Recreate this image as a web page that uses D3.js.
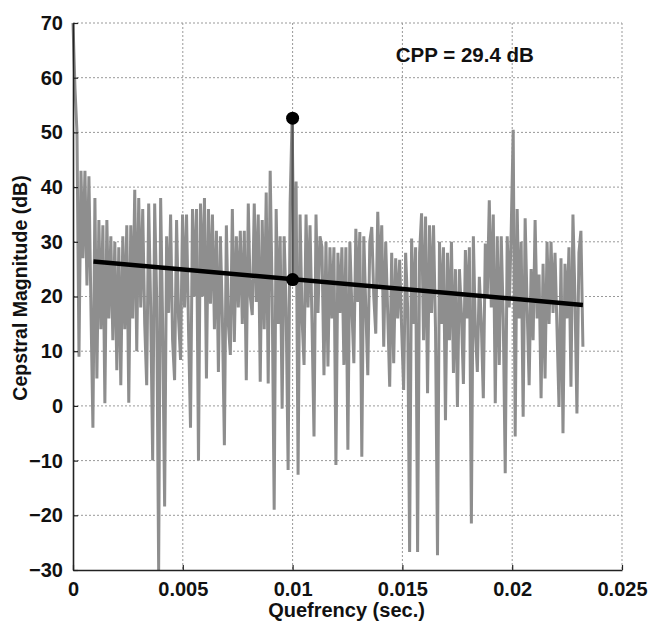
<!DOCTYPE html>
<html>
<head>
<meta charset="utf-8">
<script src="https://cdn.jsdelivr.net/npm/d3@7"></script>
<style>
  body { margin: 0; background: #fff; }
  svg text { font-family: "Liberation Sans", Arial, sans-serif; font-weight: bold; fill: #111; }
</style>
</head>
<body>
<div id="chart"></div>
<script>
//////////////////////////////////////////////
// Data //////////////////////////////////////
//////////////////////////////////////////////

// cepstrum magnitude (dB), one value every 4 samples at 44.1 kHz
var quefStep = 4 / 44100;
var cepstrum = [
  70, 58, 50, 9, 43, 27, 43, 22, 42, 18,
  -4, 38, 5, 34, 14, 33, 0.5, 34, 16, 31,
  12, 30, 6.5, 29, 3.8, 31, 14, 33, 0.6, 33,
  16, 39.5, 10, 38, 18, 36, 15, 3.8, 37, 18,
  -10, 37, 20, -30, 38, 15, -18.4, 31, 17, 35,
  12, 4.7, 34, 16, 8.4, 35, 18, 35, 14, -4,
  36, 20, 36, -10, 37, 20, 38, 5, 36, 18.7,
  35, 14, 32, 6.2, 31, 16, -7.2, 33, 15, 9.3,
  36, 11.7, 31, 18, 32, 15, 32, 4.7, 37, 20,
  16.6, 37, 19, 35, 4.4, 34, 14, 39, 4.1, 43,
  20, -19, 36, 15, 31, -0.5, 31, 18, -11.7, 37,
  52.6, 22, 41, -12.6, 35, 16, 7.5, 35, 18, 33,
  15, -5.6, 35, 17, 31, 29, 5.6, 30, 7.2, 29,
  16, 29, -10.8, 28, 17, 29, 7.5, 29, -8, 30,
  18, 7.8, 32.4, 19, 31.8, -9.3, 31, 18, 5.6, 30,
  32.7, 20, 13.2, 35.5, 22, 33, 10.8, 30, 17, 3.5,
  28, 7.8, 27, 16, 26.7, 14, 2.9, 28, 18, -26.7,
  30.6, 15, 29, -26.7, 28, 35.2, 12, 34.6, 2.3, 33,
  17, 33, 14, -27.3, 30, 15, 29, -2.6, 28, 12,
  30, 6, 25, -0.2, 25, 17, 4, 28.5, 16, 29,
  -21.5, 31, 14, 6.2, 23.6, 15, 1.4, 29.7, 20, 37.6,
  18, 35, 0.5, 31, 7.5, 31, 16, -12.3, 31, 18,
  32, 50.5, -5.6, 36, 16, 30, -2, 34.3, 18, 3.8,
  25, 12, 34, 16, 24, 1.4, 26, 5, 30, 15,
  30, 17, 28, 14, -0.2, 27, -5, 26, 16, 29,
  3.5, 35, 20, -1.4, 28, 32, 10.8
];

// regression line end points (quefrency, dB)
var regQuef = [0.00093, 0.02322];
var regDb = [26.4, 18.45];

// cepstral peak and the regression value under it
var peakQuef = 0.01;
var peakDb = 52.6;
var peakRegDb = 23.1;
var cppLabel = "CPP = 29.4 dB";

// ticks
var xTicks = [0, 0.005, 0.01, 0.015, 0.02, 0.025];
var xTickLabels = ["0", "0.005", "0.01", "0.015", "0.02", "0.025"];
var yTicks = [-30, -20, -10, 0, 10, 20, 30, 40, 50, 60, 70];

var data = cepstrum.map(function(v, i) { return {q: i * quefStep, db: v}; });

//////////////////////////////////////////////
// Chart Config /////////////////////////////
//////////////////////////////////////////////
var margin = {top: 23, right: 30, bottom: 52, left: 73};
var width = 652 - margin.left - margin.right,
    height = 622 - margin.top - margin.bottom;

var xScale = d3.scaleLinear().domain([0, 0.025]).range([0, width]);
var yScale = d3.scaleLinear().domain([-30, 70]).range([height, 0]);

var svg = d3.select("#chart").append("svg")
  .attr("width", 652)
  .attr("height", 622);

var artboard = svg.append("g")
  .attr("transform", "translate(" + margin.left + "," + margin.top + ")");

// dotted grid
artboard.append("g").selectAll("line.gx")
  .data(xTicks.slice(1))
  .enter().append("line")
  .attr("x1", function(d) { return xScale(d); })
  .attr("x2", function(d) { return xScale(d); })
  .attr("y1", 0).attr("y2", height)
  .style("stroke", "#999").style("stroke-width", 1)
  .style("stroke-dasharray", "2,2");

artboard.append("g").selectAll("line.gy")
  .data(yTicks.slice(1))
  .enter().append("line")
  .attr("x1", 0).attr("x2", width)
  .attr("y1", function(d) { return yScale(d); })
  .attr("y2", function(d) { return yScale(d); })
  .style("stroke", "#999").style("stroke-width", 1)
  .style("stroke-dasharray", "2,2");

// cepstrum trace
var line = d3.line()
  .x(function(d) { return xScale(d.q); })
  .y(function(d) { return yScale(d.db); });

artboard.append("path").datum(data)
  .attr("d", line)
  .style("fill", "none")
  .style("stroke", "#8e8e8e")
  .style("stroke-width", "3px")
  .style("stroke-linejoin", "bevel");

// regression line
artboard.append("line")
  .attr("x1", xScale(regQuef[0])).attr("y1", yScale(regDb[0]))
  .attr("x2", xScale(regQuef[1])).attr("y2", yScale(regDb[1]))
  .style("stroke", "#000").style("stroke-width", 4.5);

// stem from regression to peak
artboard.append("line")
  .attr("x1", xScale(peakQuef)).attr("y1", yScale(peakRegDb))
  .attr("x2", xScale(peakQuef)).attr("y2", yScale(peakDb))
  .style("stroke", "#555").style("stroke-width", 2.2);

artboard.selectAll("circle.mark")
  .data([peakDb, peakRegDb])
  .enter().append("circle")
  .attr("cx", xScale(peakQuef))
  .attr("cy", function(d) { return yScale(d); })
  .attr("r", 6.5)
  .style("fill", "#000");

artboard.append("text")
  .attr("x", xScale(0.0147))
  .attr("y", yScale(62.9))
  .style("font-size", "20.5px")
  .text(cppLabel);

// axes
var xAxis = d3.axisBottom(xScale)
  .tickValues(xTicks)
  .tickFormat(function(d, i) { return xTickLabels[i]; })
  .tickSizeInner(-5).tickSizeOuter(0).tickPadding(12);

var yAxis = d3.axisLeft(yScale)
  .tickValues(yTicks)
  .tickSizeInner(-5).tickSizeOuter(0).tickPadding(10);

var xAxisEl = artboard.append("g")
  .attr("transform", "translate(0," + height + ")")
  .call(xAxis);

var yAxisEl = artboard.append("g").call(yAxis);

[xAxisEl, yAxisEl].forEach(function(ax) {
  ax.select(".domain").style("stroke", "#222").style("stroke-width", 1.6);
  ax.selectAll(".tick line").style("stroke", "#222").style("stroke-width", 1.2);
  ax.selectAll(".tick text")
    .style("font-family", "'Liberation Sans', Arial, sans-serif")
    .style("font-weight", "bold")
    .style("font-size", "20px")
    .style("fill", "#111");
});

// axis titles
svg.append("text")
  .attr("x", margin.left + xScale(0.0125) - 1)
  .attr("y", 617)
  .attr("text-anchor", "middle")
  .style("font-size", "20px")
  .text("Quefrency (sec.)");

svg.append("text")
  .attr("transform", "translate(27," + 288 + ") rotate(-90)")
  .attr("text-anchor", "middle")
  .style("font-size", "19.5px")
  .text("Cepstral Magnitude (dB)");
</script>
</body>
</html>
